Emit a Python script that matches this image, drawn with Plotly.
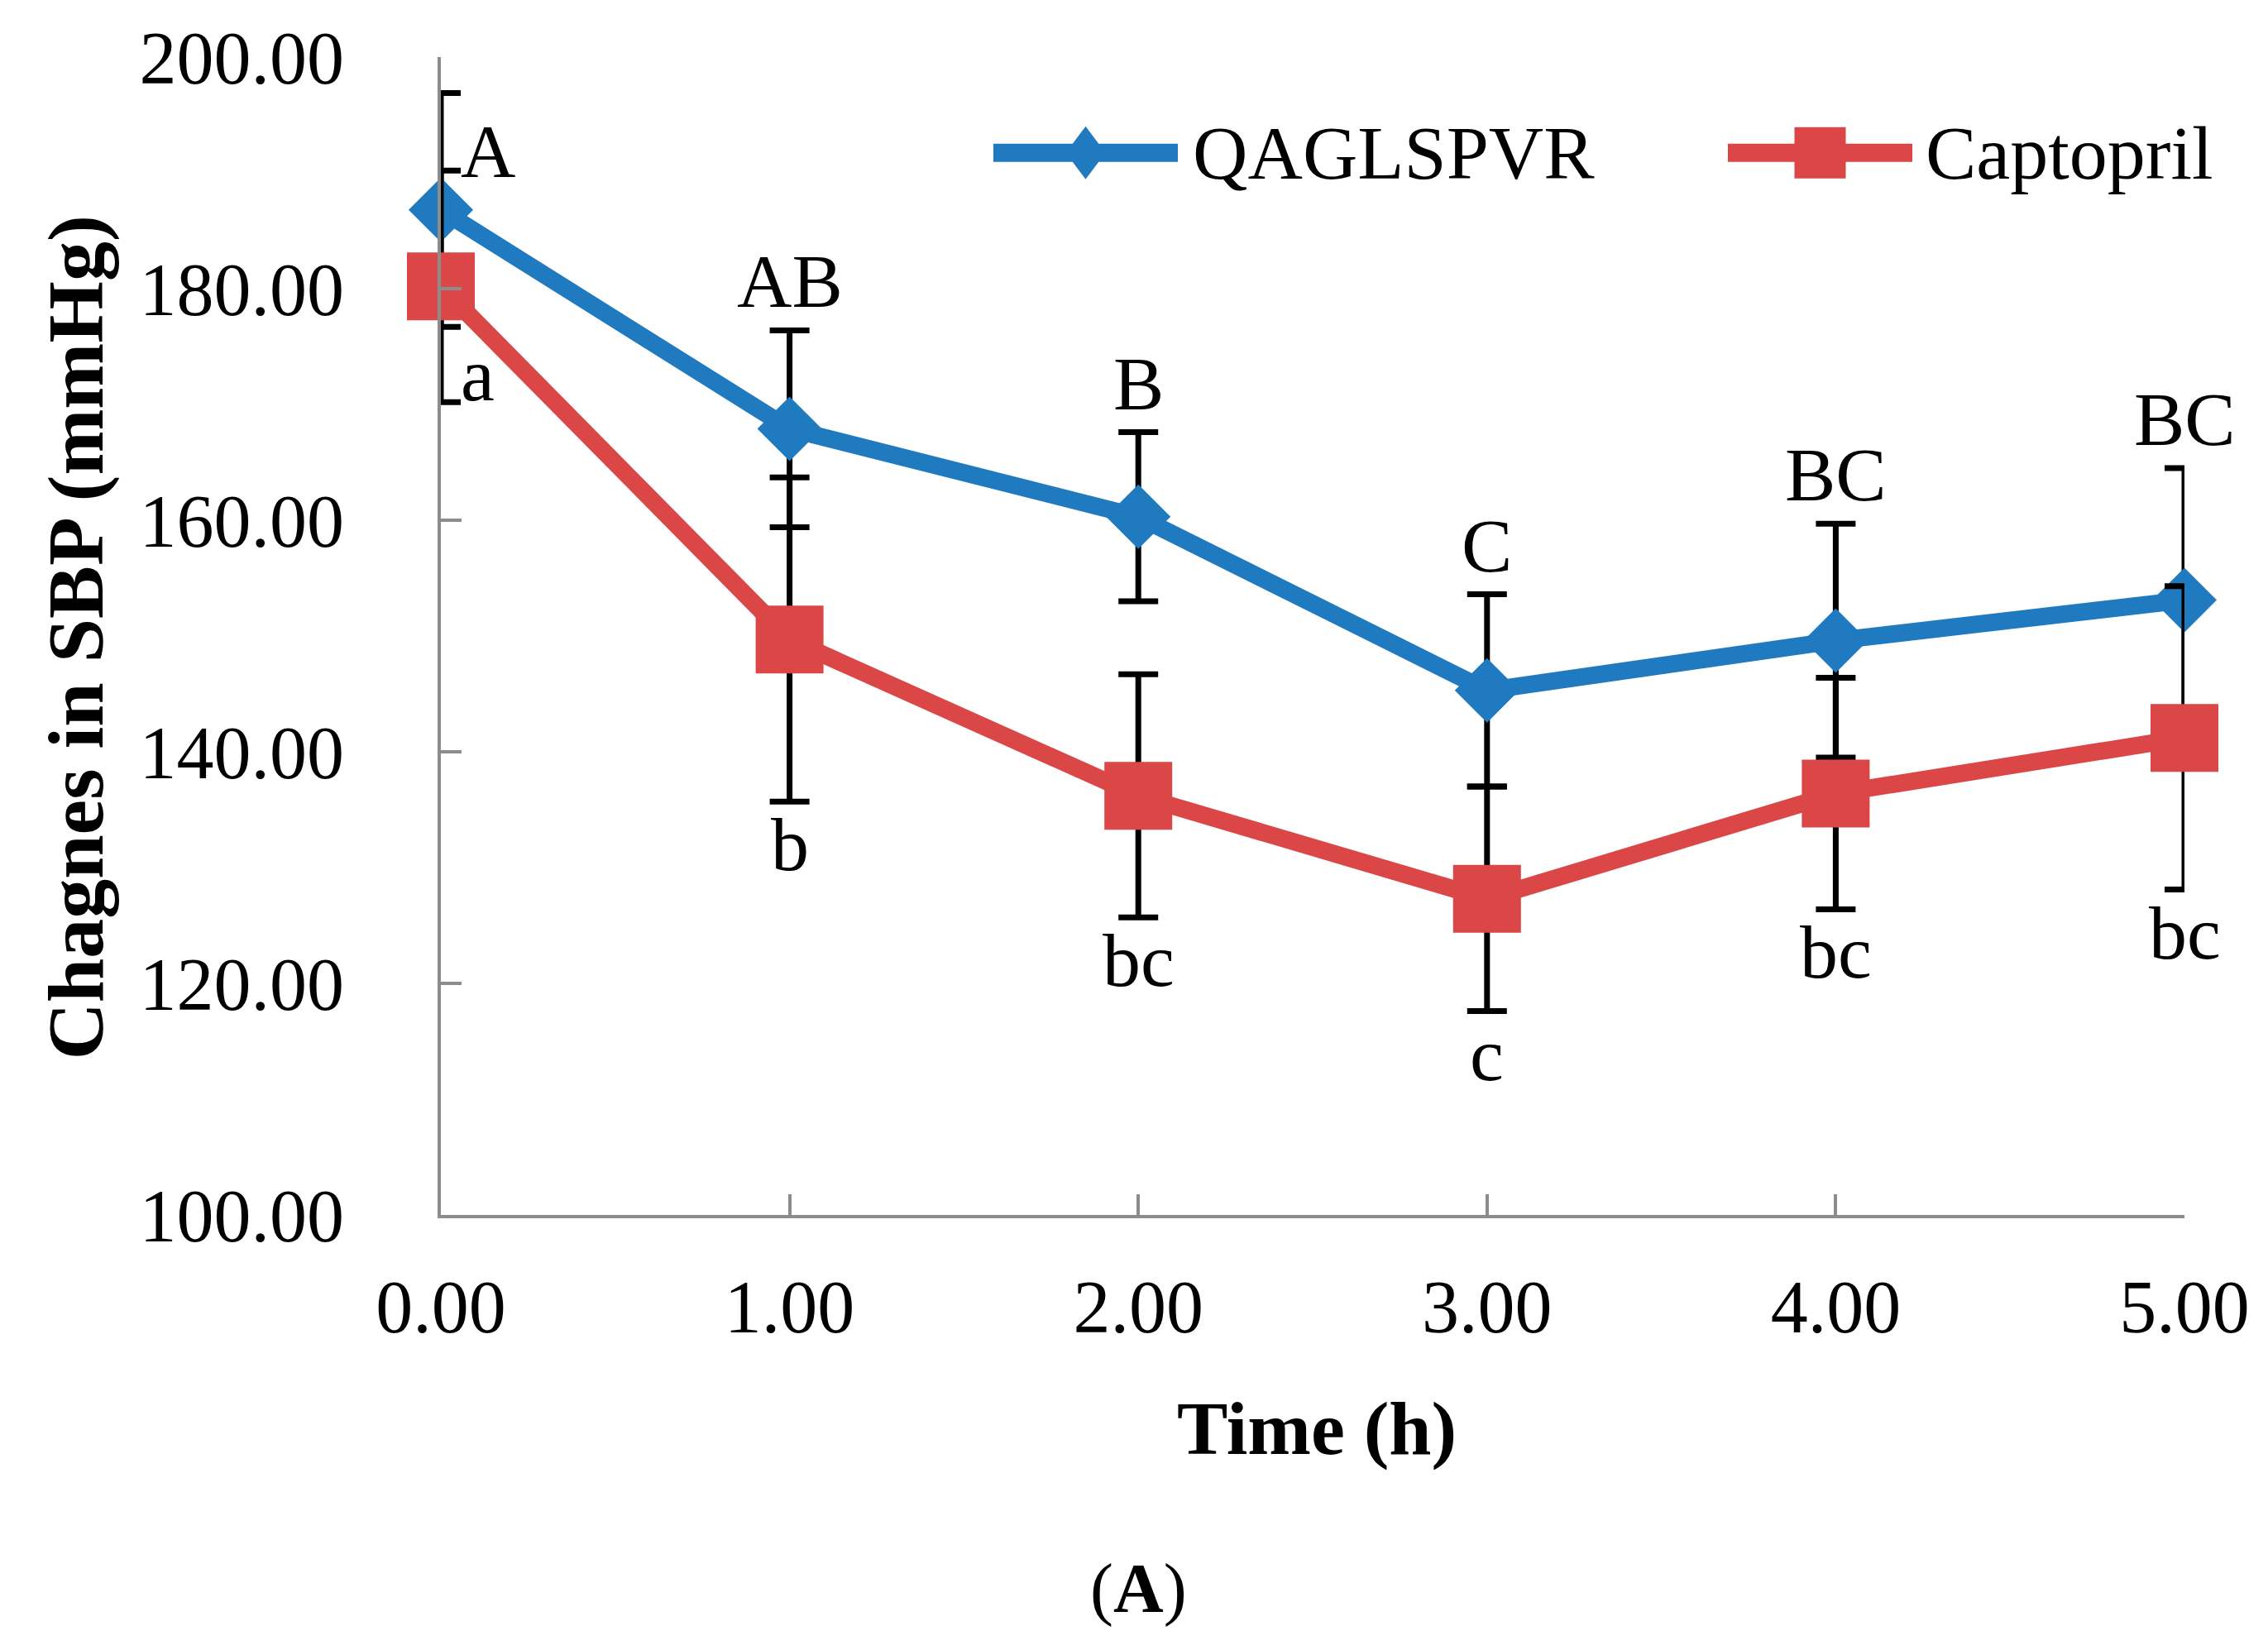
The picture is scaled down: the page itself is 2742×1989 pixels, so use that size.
import plotly.graph_objects as go

# data
time_h = [0, 1, 2, 3, 4, 5]
qag_mean = [186.8, 167.9, 160.3, 145.3, 149.6, 153.1]
qag_sd = [10.1, 8.5, 7.3, 8.3, 10.1, 11.4]
cap_mean = [180.2, 149.7, 136.2, 127.3, 136.4, 141.2]
cap_sd = [10.0, 14.0, 10.5, 9.7, 10.0, 13.1]
qag_letters = ["A", "AB", "B", "C", "BC", "BC"]
cap_letters = ["a", "b", "bc", "c", "bc", "bc"]
series_names = ["QAGLSPVR", "Captopril"]
x_ticks = [0, 1, 2, 3, 4, 5]
y_ticks = [100, 120, 140, 160, 180, 200]

# page is 2742x1989, the html body adds an 8px margin
PAD = 8
W, H = 2742 - 2 * PAD, 1989 - 2 * PAD
L, R, T, B = 533 - PAD, 101 - PAD, 66 - PAD, 520 - PAD
BLUE = "#1F7AC0"
RED = "#DB4646"
FONT = "Liberation Serif"


def px(x):
    # page pixel -> paper x
    return (x - PAD - L) / (W - L - R)


def py(y):
    # page pixel -> paper y
    return (H - B - (y - PAD)) / (H - T - B)


fig = go.Figure()

err_style = dict(type="data", color="black", thickness=7, width=24)

fig.add_trace(go.Scatter(
    x=time_h, y=qag_mean, name=series_names[0], mode="lines+markers",
    line=dict(color=BLUE, width=21),
    marker=dict(symbol="diamond", size=60, color=BLUE),
    error_y=dict(array=qag_sd, **err_style),
    cliponaxis=False, showlegend=False,
))
fig.add_trace(go.Scatter(
    x=time_h, y=cap_mean, name=series_names[1], mode="lines+markers",
    line=dict(color=RED, width=21),
    marker=dict(symbol="square", size=82, color=RED),
    error_y=dict(array=cap_sd, **err_style),
    cliponaxis=False, showlegend=False,
))

annotations = []
letter_font = dict(family=FONT, size=92, color="black")
for i, t in enumerate(time_h):
    up = qag_mean[i] + qag_sd[i]
    lo = cap_mean[i] - cap_sd[i]
    if i == 0:
        annotations.append(dict(x=t, y=up, text=qag_letters[i], showarrow=False,
                                xanchor="left", yanchor="top", xshift=22, yshift=-18,
                                font=letter_font))
        annotations.append(dict(x=t, y=lo, text=cap_letters[i], showarrow=False,
                                xanchor="left", yanchor="bottom", xshift=22, yshift=-20,
                                font=letter_font))
    else:
        annotations.append(dict(x=t, y=up, text=qag_letters[i], showarrow=False,
                                xanchor="center", yanchor="bottom", yshift=6,
                                font=letter_font))
        annotations.append(dict(x=t, y=lo, text=cap_letters[i], showarrow=False,
                                xanchor="center", yanchor="top", yshift=1,
                                font=letter_font))

# axis titles and caption
annotations.append(dict(xref="paper", yref="paper", x=px(1592), y=py(1728),
                        text="<b>Time (h)</b>", showarrow=False, yanchor="middle",
                        font=dict(family=FONT, size=92, color="black")))
annotations.append(dict(xref="paper", yref="paper", x=px(91), y=py(770),
                        text="<b>Chagnes in SBP (mmHg)</b>", showarrow=False, textangle=-90,
                        xanchor="center", yanchor="middle",
                        font=dict(family=FONT, size=96, color="black")))
annotations.append(dict(xref="paper", yref="paper", x=px(1376), y=py(1922),
                        text="(<b>A</b>)", showarrow=False, xanchor="center", yanchor="middle",
                        font=dict(family=FONT, size=84, color="black")))

# hand-built legend (native legend caps the marker size)
shapes = []
legend_y = 182
for name, color, x0, x1, tx, sym in [
    (series_names[0], BLUE, 1201, 1424, 1440, "diamond"),
    (series_names[1], RED, 2089, 2312, 2326, "square"),
]:
    shapes.append(dict(type="line", xref="paper", yref="paper",
                       x0=px(x0), x1=px(x1), y0=py(legend_y), y1=py(legend_y),
                       line=dict(color=color, width=22)))
    cx = (x0 + x1) / 2
    if sym == "diamond":
        path = "M {} {} L {} {} L {} {} L {} {} Z".format(
            px(cx - 24), py(legend_y), px(cx), py(legend_y - 32),
            px(cx + 24), py(legend_y), px(cx), py(legend_y + 32))
        shapes.append(dict(type="path", xref="paper", yref="paper", path=path,
                           fillcolor=color, line=dict(width=0)))
    else:
        shapes.append(dict(type="rect", xref="paper", yref="paper",
                           x0=px(cx - 31), x1=px(cx + 31),
                           y0=py(legend_y + 31), y1=py(legend_y - 31),
                           fillcolor=color, line=dict(width=0)))
    annotations.append(dict(xref="paper", yref="paper", x=px(tx), y=py(legend_y),
                            text=name, showarrow=False, xanchor="left", yanchor="middle",
                            font=dict(family=FONT, size=92, color="black")))

axis_common = dict(
    showgrid=False, zeroline=False, showline=True, linecolor="#8C8C8C", linewidth=4,
    ticks="inside", ticklen=25, tickwidth=4, tickcolor="#8C8C8C",
    tickfont=dict(family=FONT, size=90, color="black"), tickformat=".2f",
)

fig.update_layout(
    width=W, height=H,
    margin=dict(l=L, r=R, t=T, b=B),
    paper_bgcolor="white", plot_bgcolor="white",
    xaxis=dict(range=[0, 5], tickvals=x_ticks, ticklabelstandoff=30, **axis_common),
    yaxis=dict(range=[100, 200], tickvals=y_ticks, ticklabelstandoff=95, **axis_common),
    annotations=annotations,
    shapes=shapes,
    showlegend=False,
)

fig.write_html("out.html")
